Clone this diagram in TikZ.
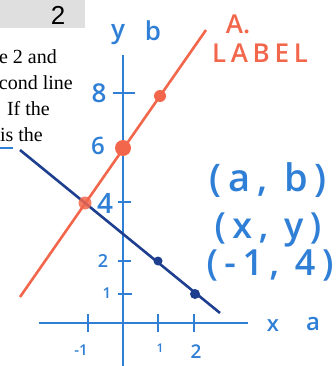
\documentclass[tikz,border=0pt]{standalone}
\usepackage{fontspec}
\setmainfont{Liberation Serif}
\newfontfamily\hand{Open Sans}[UprightFont=* Semibold,BoldFont=* Bold]
\newfontfamily\handsp{Open Sans}[UprightFont=* Semibold,LetterSpace=18]
\newfontfamily\boxfont{Liberation Sans}
\definecolor{axisblue}{HTML}{2F7FD6}
\definecolor{lineblue}{HTML}{1E3F8F}
\definecolor{redorange}{HTML}{F2664B}
\begin{document}
\begin{tikzpicture}[x=1pt,y=-1pt,
  axis/.style={draw=axisblue,line width=2.6pt},
  tick/.style={draw=axisblue,line width=2.4pt},
  hw/.style={text=axisblue,font=\hand,inner sep=0pt},
  rline/.style={draw=redorange,line width=2.6pt},
  bline/.style={draw=lineblue,line width=2.6pt},
  para/.style={font=\fontsize{20}{24}\selectfont,anchor=east,inner sep=0pt}]
\useasboundingbox (0,0) rectangle (335,366);
% grey header box
\fill[gray!25] (0,0) rectangle (85,28);
\node[font=\boxfont\fontsize{26}{26}\selectfont,inner sep=0pt] (num) at (58,15) {2};
% paragraph fragments
\node[para] (p1) at (57,57) {e 2 and};
\node[para] (p2) at (73,83) {cond line};
\node[para] (p3) at (50,109) {If the};
\node[para] (p4) at (43,135) {is the};
\coordinate (u1) at (0,148); \coordinate (u2) at (13,148);
\draw[axisblue,line width=2pt] (u1) -- (u2);
% axes
\coordinate (yt) at (123,55); \coordinate (yb) at (123,366);
\coordinate (xl) at (39,323); \coordinate (xr) at (248,323);
\draw[axis] (yt) -- (yb);
\draw[axis] (xl) -- (xr);
% y ticks
\draw[tick] (113,93) -- (135,93);
\draw[tick] (118,147) -- (130,147);
\draw[tick] (118,202) -- (131,202);
\draw[tick] (118,261) -- (131,261);
\draw[tick] (118,294) -- (132,294);
% x ticks
\draw[tick] (88,314) -- (88,332);
\draw[tick] (158,314) -- (158,332);
\draw[tick] (194,314) -- (194,332);
% tick labels
\node[hw,font=\hand\fontsize{26}{26}\selectfont] (l8) at (99,93) {8};
\node[hw,font=\hand\fontsize{24}{24}\selectfont] (l6) at (98,146) {6};
\node[hw,font=\hand\fontsize{28}{28}\selectfont] (l4) at (105,203) {4};
\node[hw,font=\hand\fontsize{18}{18}\selectfont] (l2) at (103,261) {2};
\node[hw,font=\hand\fontsize{15}{15}\selectfont] (l1) at (107,293) {1};
\node[hw,font=\hand\fontsize{15}{15}\selectfont] (lm1) at (81,350) {-1};
\node[hw,font=\hand\fontsize{12}{12}\selectfont] (lp1) at (160,348) {1};
\node[hw,font=\hand\fontsize{19}{19}\selectfont] (lp2) at (196,352) {2};
% axis labels
\node[hw,font=\hand\fontsize{26}{26}\selectfont] (ly) at (118,35) {y};
\node[hw,font=\hand\fontsize{26}{26}\selectfont] (lb) at (153,31) {b};
\node[hw,font=\hand\fontsize{22}{22}\selectfont] (lx) at (273,326) {x};
\node[hw,font=\hand\fontsize{24}{24}\selectfont] (la) at (313,324) {a};
% coordinate pairs
\node[hw,font=\handsp\fontsize{38}{38}\selectfont] (ab) at (268,180) {(a, b)};
\node[hw,font=\handsp\fontsize{36}{36}\selectfont] (xy) at (268,230) {(x, y)};
\node[hw,font=\handsp\fontsize{36}{36}\selectfont] (m14) at (270,265) {(-1, 4)};
% lines
\coordinate (rs) at (20,297); \coordinate (re) at (206,30);
\coordinate (bs) at (20,150); \coordinate (be) at (220,313);
\draw[rline] (rs) -- (re);
\draw[bline] (bs) -- (be);
% dots
\coordinate (pA) at (85,203); \coordinate (pB) at (123,148); \coordinate (pC) at (160,96);
\coordinate (pD) at (158,261); \coordinate (pE) at (195,294);
\fill[redorange,opacity=0.85] (pA) circle (6.5);
\fill[redorange] (pB) circle (8);
\fill[redorange] (pC) circle (6);
\fill[lineblue] (pD) circle (4.5);
\fill[lineblue] (pE) circle (5);
% orange label
\node[text=redorange,font=\hand\fontsize{26}{26}\selectfont,inner sep=0pt] (lA) at (238,24) {A.};
\node[text=redorange,font=\handsp\fontsize{26}{26}\selectfont,inner sep=0pt] (lL) at (260,53) {LABEL};
\end{tikzpicture}
\end{document}
